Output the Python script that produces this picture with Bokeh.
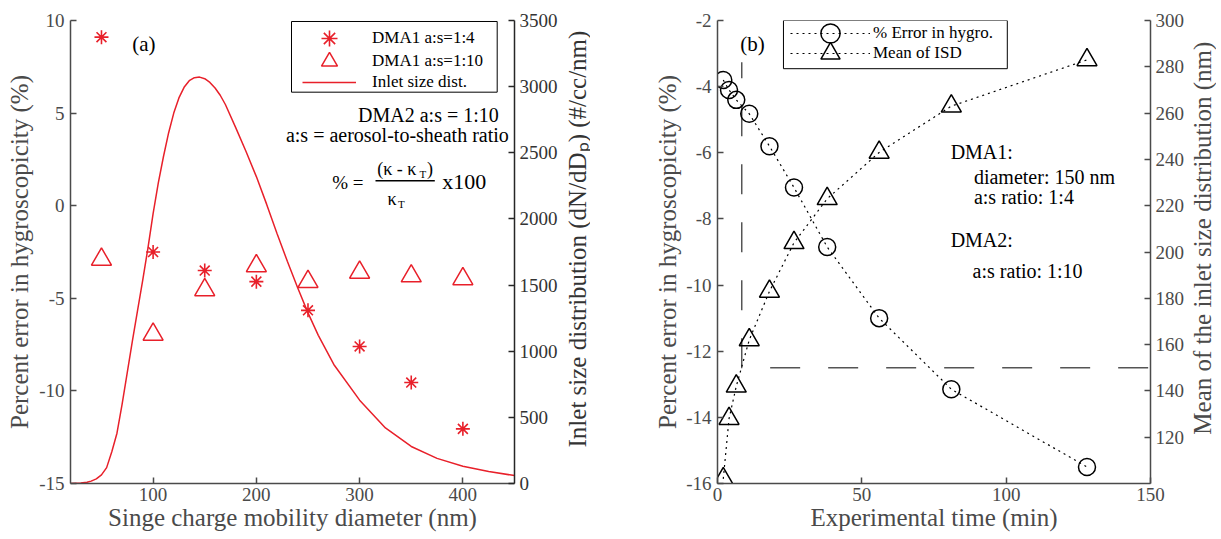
import math
from bokeh.plotting import figure
from bokeh.models import (Range1d, LinearAxis, FixedTicker, Legend, LegendItem,
                          Label, BoxAnnotation)
from bokeh.layouts import row
from bokeh.embed import file_html
from bokeh.resources import INLINE

# ---------------- data: panel (a) ----------------
diameter_nm = [50, 100, 150, 200, 250, 300, 350, 400]
err_dma1_as4 = [9.1, -2.5, -3.5, -4.1, -5.65, -7.6, -9.55, -12.05]
err_dma1_as10 = [-2.9, -6.95, -4.55, -3.25, -4.1, -3.6, -3.8, -3.95]

isd_diameter_nm = [20, 30, 36, 40, 45, 50, 55, 60, 65, 70, 75, 80, 85, 90, 95,
                   100, 105, 110, 115, 120, 125, 130, 135, 140, 145, 150, 155,
                   160, 165, 170, 180, 190, 200, 210, 220, 230, 240, 250, 260,
                   275, 300, 325, 350, 375, 400, 425, 450]
isd_conc = [0, 3, 10, 18, 35, 65, 120, 240, 380, 600, 840, 1080, 1310, 1540,
            1780, 2040, 2270, 2470, 2650, 2800, 2915, 2995, 3045, 3068, 3072,
            3060, 3032, 2990, 2935, 2865, 2690, 2510, 2320, 2110, 1890, 1680,
            1480, 1290, 1120, 900, 630, 420, 280, 190, 130, 90, 60]

a_x_ticks = [100, 200, 300, 400]
a_y_ticks = [-15, -10, -5, 0, 5, 10]
a_y2_ticks = [0, 500, 1000, 1500, 2000, 2500, 3000, 3500]

# ---------------- data: panel (b) ----------------
time_min = [2, 4, 6.5, 11, 18, 26.5, 38, 56, 81, 128]
err_hygro = [-3.8, -4.1, -4.4, -4.82, -5.8, -7.05, -8.85, -11.0, -13.15, -15.5]
mean_isd_nm = [102, 128, 142, 162, 183, 204, 223, 243, 263, 283]

cross_time_min = [8.4, 8.4, 150]
cross_mean_nm = [282, 150, 150]

b_x_ticks = [0, 50, 100, 150]
b_y_ticks = [-16, -14, -12, -10, -8, -6, -4, -2]
b_y2_ticks = [120, 140, 160, 180, 200, 220, 240, 260, 280, 300]

FONT = "Liberation Serif"
RED = "#e8202a"
AX = "#4a4a4a"
FIG_H = 536
LABEL_PX = 25


def style_axis(ax, ticks, color=AX, line_color=AX, standoff=5, label_standoff=3):
    ax.ticker = FixedTicker(ticks=ticks)
    ax.major_label_overrides = {t: str(t) for t in ticks}
    ax.major_label_text_font = FONT
    ax.major_label_text_font_size = "19px"
    ax.major_label_text_color = color
    ax.axis_label_text_font = FONT
    ax.axis_label_text_font_size = f"{LABEL_PX}px"
    ax.axis_label_text_font_style = "normal"
    ax.axis_label_text_color = color
    ax.axis_line_color = line_color
    ax.axis_line_width = 1.5
    ax.major_tick_line_color = line_color
    ax.major_tick_line_width = 1.5
    ax.major_tick_in = 6
    ax.major_tick_out = 0
    ax.minor_tick_line_color = None
    ax.major_label_standoff = standoff
    ax.axis_label_standoff = label_standoff


def add_text(p, x, y, text, size, align="left", color="black", angle=0.0):
    p.add_layout(Label(x=x, y=y, text=text, text_font=FONT,
                       text_font_size=f"{size}px", text_align=align,
                       text_baseline="middle", text_color=color, angle=angle))


def single_legend(p, label, renderers, x, y, gw, gh, standoff):
    leg = Legend(items=[LegendItem(label=label, renderers=renderers)],
                 location=(x, y), glyph_width=gw, glyph_height=gh,
                 spacing=0, padding=0, margin=0, label_standoff=standoff,
                 label_text_font=FONT, label_text_font_size="17px",
                 label_text_color="black",
                 border_line_alpha=0, background_fill_alpha=0)
    p.add_layout(leg, "center")


def side_label(text, width, center_y, color):
    # narrow strip holding a rotated axis title that reads bottom-to-top
    f = figure(width=width, height=FIG_H, x_range=Range1d(0, width),
               y_range=Range1d(0, FIG_H), x_axis_type=None, y_axis_type=None,
               output_backend="svg", toolbar_location=None, min_border=0)
    f.grid.visible = False
    f.outline_line_color = None
    add_text(f, width / 2, FIG_H - center_y, text, LABEL_PX, align="center",
             color=color, angle=math.pi / 2)
    return f


# reference-pixel -> data helpers (annotation placement only)
def ax_(px):
    return 20 + (px - 70) * 430 / 444


def ay_(py):
    return 10 - (py - 20) * 25 / 467


def bx_(px):
    return (px - 716.7) * 150 / 433.3


def by_(py):
    return -2 - (py - 20) * 14 / 464


# ======================= panel (a) =======================
pa = figure(width=564, height=FIG_H, x_range=Range1d(20, 450),
            y_range=Range1d(-15, 10), output_backend="svg",
            toolbar_location=None, min_border_left=70, min_border_right=50,
            min_border_top=20, min_border_bottom=53)
pa.extra_y_ranges = {"isd": Range1d(0, 3500)}
pa.grid.visible = False
pa.outline_line_color = None

pa.xaxis.axis_label = "Singe charge mobility diameter (nm)"
pa.yaxis.axis_label = "Percent error in hygroscopicity (%)"
style_axis(pa.xaxis[0], a_x_ticks, standoff=4, label_standoff=0)
style_axis(pa.yaxis[0], a_y_ticks, standoff=6, label_standoff=3)
ra = LinearAxis(y_range_name="isd")
style_axis(ra, a_y2_ticks, color="#333333", line_color="#262626")
pa.add_layout(ra, "right")

r_line = pa.line(isd_diameter_nm, isd_conc, y_range_name="isd",
                 line_color=RED, line_width=1.5)
r_star = pa.scatter(diameter_nm, err_dma1_as4, marker="asterisk", size=14,
                    line_color=RED, line_width=1.6)
r_tri = pa.scatter(diameter_nm, err_dma1_as10, marker="triangle", size=20,
                   line_color=RED, fill_alpha=0, line_width=1.5)

pa.add_layout(BoxAnnotation(left=ax_(291), right=ax_(496.7), top=ay_(21),
                            bottom=ay_(92.3), fill_color="white", fill_alpha=1,
                            line_color="black", line_alpha=1, line_width=1))
single_legend(pa, "DMA1 a:s=1:4", [r_star], 232, 425, 54, 40, 16)
single_legend(pa, "DMA1 a:s=1:10", [r_tri], 232, 402, 54, 40, 16)
single_legend(pa, "Inlet size dist.", [r_line], 232, 381, 54, 40, 16)

add_text(pa, ax_(143.3), ay_(43.3), "(a)", 21, align="center")
add_text(pa, ax_(498.3), ay_(115), "DMA2 a:s = 1:10", 20, align="right")
add_text(pa, ax_(508.3), ay_(135.7), "a:s = aerosol-to-sheath ratio", 20,
         align="right")
add_text(pa, ax_(331.7), ay_(183), "% =", 19)
add_text(pa, ax_(376.7), ay_(170), "(\u03ba - \u03ba", 18)
add_text(pa, ax_(419), ay_(175), "T", 11)
add_text(pa, ax_(426.5), ay_(170), ")", 18)
pa.add_layout(BoxAnnotation(left=ax_(375), right=ax_(434.3), top=ay_(181),
                            bottom=ay_(182.4), fill_color="black", fill_alpha=1,
                            line_alpha=0))
add_text(pa, ax_(387), ay_(200), "\u03ba", 18)
add_text(pa, ax_(397.5), ay_(205.5), "T", 11)
add_text(pa, ax_(441.7), ay_(182), "x100", 22)

la = side_label("Inlet size distribution (dN/dD\u209a) (#/cc/nm)", 26, 253,
                "#333333")

# ======================= panel (b) =======================
pb = figure(width=598, height=FIG_H, x_range=Range1d(0, 150),
            y_range=Range1d(-16, -2), output_backend="svg",
            toolbar_location=None, min_border_left=127, min_border_right=38,
            min_border_top=20, min_border_bottom=53)
pb.extra_y_ranges = {"mean": Range1d(100, 300)}
pb.grid.visible = False
pb.outline_line_color = None

pb.xaxis.axis_label = "Experimental time (min)"
pb.yaxis.axis_label = "Percent error in hygroscopicity (%)"
style_axis(pb.xaxis[0], b_x_ticks, standoff=4, label_standoff=0)
style_axis(pb.yaxis[0], b_y_ticks, standoff=6, label_standoff=2)
rb = LinearAxis(y_range_name="mean")
style_axis(rb, b_y2_ticks)
pb.add_layout(rb, "right")

pb.line(cross_time_min, cross_mean_nm, y_range_name="mean", line_color="#555555",
        line_width=1.5, line_dash="30 28", line_dash_offset=14)

l_c = pb.line(time_min, err_hygro, line_color="black", line_width=1.2,
              line_dash="2 4")
l_t = pb.line(time_min, mean_isd_nm, y_range_name="mean", line_color="black",
              line_width=1.2, line_dash="2 4")
s_c = pb.scatter(time_min, err_hygro, marker="circle", size=17,
                 line_color="black", fill_alpha=0, line_width=1.5)
s_t = pb.scatter(time_min, mean_isd_nm, y_range_name="mean", marker="triangle",
                 size=20, line_color="black", fill_alpha=0, line_width=1.5)

pb.add_layout(BoxAnnotation(left=bx_(782.7), right=bx_(1006.7), top=-2.0,
                            bottom=by_(68.3), fill_color="white", fill_alpha=1,
                            line_color="black", line_alpha=1, line_width=1))
single_legend(pb, "% Error in hygro.", [l_c, s_c], 73, 426, 80, 48, 3)
single_legend(pb, "Mean of ISD", [l_t, s_t], 73, 406, 80, 48, 3)

add_text(pb, bx_(751.7), by_(43.3), "(b)", 21, align="center")
add_text(pb, bx_(950), by_(152), "DMA1:", 20)
add_text(pb, bx_(973.3), by_(177), "diameter: 150 nm", 20)
add_text(pb, bx_(973.3), by_(197), "a:s ratio: 1:4", 20)
add_text(pb, bx_(950), by_(240), "DMA2:", 20)
add_text(pb, bx_(972), by_(271), "a:s ratio: 1:10", 20)

lb = side_label("Mean of the inlet size distribution (nm)", 28, 252, AX)

layout = row(pa, la, pb, lb)
open("out.html", "w").write(file_html(layout, INLINE))
